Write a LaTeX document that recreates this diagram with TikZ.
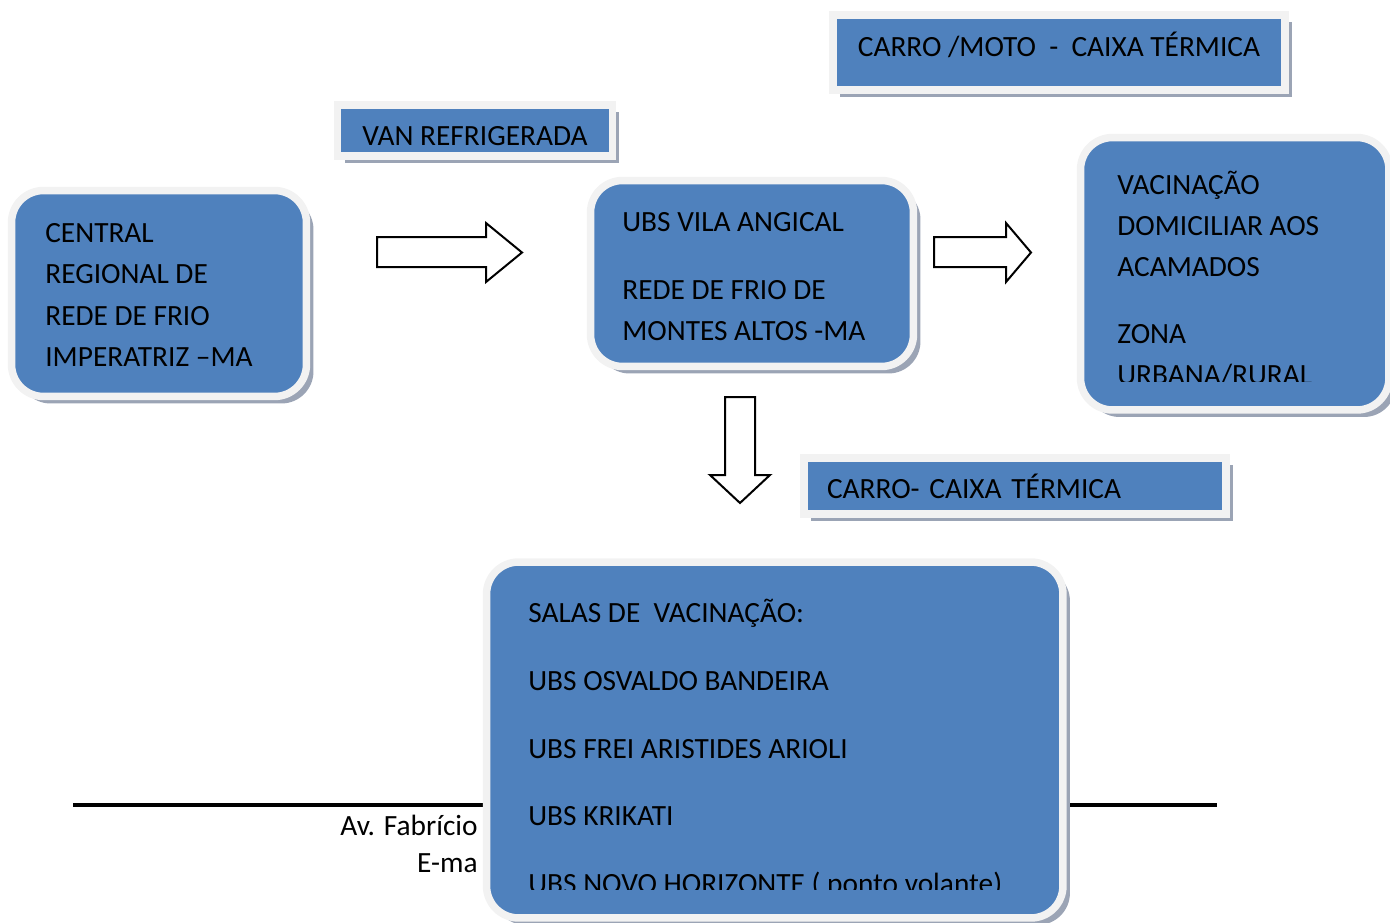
\documentclass[tikz,border=0pt]{standalone}
\usepackage{fontspec}
\setmainfont{Carlito}
\usepackage{tikz}
\usetikzlibrary{shapes,arrows,shadows}
\definecolor{boxblue}{RGB}{79,129,189}
\definecolor{boxedge}{RGB}{242,242,242}
\definecolor{shadowgray}{RGB}{155,164,181}
\tikzstyle{roundbox} = [rectangle, draw=boxedge, line width=0.15cm, fill=boxblue, rounded corners=0.64cm,
    drop shadow={shadow xshift=0.14cm, shadow yshift=-0.14cm, fill=shadowgray, opacity=1}]
\tikzstyle{bannerbox} = [rectangle, draw=boxedge, line width=0.15cm, fill=boxblue,
    drop shadow={shadow xshift=0.14cm, shadow yshift=-0.14cm, fill=shadowgray, opacity=1},
    font=\fontsize{16.7}{23.5}\selectfont, inner ysep=0pt, text depth=0pt]
\tikzstyle{boxtext} = [font=\fontsize{16.7}{23.5}\selectfont, inner sep=0pt, align=left, anchor=base west]
\tikzstyle{hollow} = [draw, line width=0.04cm, fill=white, line join=miter]

\begin{document}
\begin{tikzpicture}[x=0.02cm, y=-0.02cm]
    \clip (0,0) rectangle (1390,923);
    % Footer behind the boxes
    \draw [line width=0.09cm] (73,805) -- (1217,805);
    \node [boxtext, anchor=base east] (street) at (478,835) {Av. Fabrício};
    \node [boxtext, anchor=base east] (email) at (478,872) {E-ma};
    % Place nodes
    \node [roundbox, minimum width=5.9cm, minimum height=4.12cm] (central) at (159,293.5) {};
    \node [boxtext] (central-txt) at (45,366.3) {CENTRAL\\REGIONAL DE\\REDE DE FRIO\\IMPERATRIZ –MA};
    \node [bannerbox, minimum width=5.5cm, minimum height=1.02cm, text height=16.8pt] (van) at (475,130.5) {VAN REFRIGERADA};
    \node [roundbox, minimum width=6.46cm, minimum height=3.72cm] (vila) at (752,273.5) {};
    \node [boxtext] (vila-txt) at (622,340.3) {UBS VILA ANGICAL\\[15pt]REDE DE FRIO DE\\MONTES ALTOS -MA};
    \node [bannerbox, minimum width=9.04cm, minimum height=1.5cm, text height=4.4pt] (moto) at (1059,52.5) {CARRO /MOTO~ -~ CAIXA TÉRMICA};
    \node [roundbox, minimum width=6.17cm, minimum height=5.45cm] (vacina) at (1234.75,273.75) {};
    \begin{scope}
        \clip (1083,143) rectangle (1386,381);
        \node [boxtext] (vacina-txt) at (1117,384.8)
            {VACINAÇÃO\\DOMICILIAR AOS\\ACAMADOS\\[14.5pt]ZONA\\URBANA/RURAL};
    \end{scope}
    \node [bannerbox, minimum width=8.44cm, minimum height=1.12cm, text width=7.52cm, inner xsep=0.46cm, align=left]
        (carro) at (1015,486) {CARRO- CAIXA TÉRMICA};
    \node [roundbox, minimum width=11.53cm, minimum height=7.12cm] (salas) at (774.75,740) {};
    \begin{scope}
        \clip (490,566) rectangle (1060,889);
        \node [boxtext, font=\fontsize{16.7}{38.5}\selectfont] (salas-txt) at (528,893.3)
            {SALAS DE~ VACINAÇÃO:\\UBS OSVALDO BANDEIRA\\UBS FREI ARISTIDES ARIOLI\\UBS KRIKATI\\UBS NOVO HORIZONTE ( ponto volante)};
    \end{scope}
    % Draw block arrows
    \draw [hollow] (377,237) -- (486,237) -- (486,223) -- (522,252.5) -- (486,282) -- (486,267) -- (377,267) -- cycle;
    \draw [hollow] (934,237) -- (1006,237) -- (1006,223) -- (1031,252.5) -- (1006,282) -- (1006,267) -- (934,267) -- cycle;
    \draw [hollow] (725,397) -- (755,397) -- (755,475) -- (770,475) -- (740,503) -- (710,475) -- (725,475) -- cycle;
\end{tikzpicture}
\end{document}
